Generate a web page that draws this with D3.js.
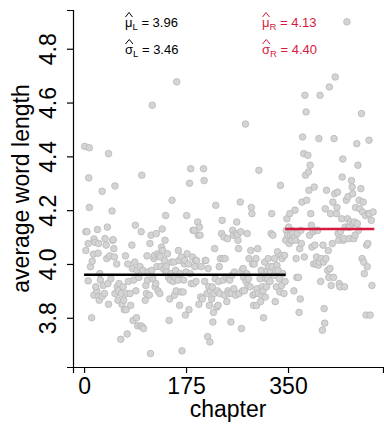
<!DOCTYPE html>
<html>
<head>
<meta charset="utf-8">
<script src="https://cdn.jsdelivr.net/npm/d3@7"></script>
<style>
  body { margin: 0; background: #fff; }
  svg { display: block; font-family: "Liberation Sans", Arial, sans-serif; }
</style>
</head>
<body>
<svg id="chart" width="384" height="426"></svg>
<script>
// chapter index and its average word length
var chapters = [
  1, 9, 8, 9, 3, 5, 3, 7, 7, 11, 13, 14, 16, 17, 19, 17, 22, 23, 24, 25, 25, 26, 20, 27, 28,
  31, 31, 33, 35, 36, 38, 39, 40, 41, 42, 42, 44, 46, 48, 49, 50, 51, 52, 53, 53, 56, 57, 58, 59, 60,
  63, 64, 65, 67, 68, 69, 71, 72, 73, 74, 75, 76, 79, 80, 82, 83, 84, 85, 87, 88, 89, 90, 91, 92, 94,
  96, 97, 98, 99, 100, 101, 102, 105, 106, 107, 108, 109, 110, 112, 113, 114, 115, 116, 117, 118, 120,
  121, 122, 123, 124, 125, 126, 127, 129, 130, 131, 132, 133, 134, 135, 137, 138, 139, 140, 141, 142,
  143, 145, 146, 147, 148, 149, 150, 151, 153, 154, 155, 156, 157, 158, 159, 161, 162, 163, 164, 165,
  166, 167, 168, 170, 171, 172, 173, 174, 175, 176, 177, 179, 180, 181, 182, 183, 184, 186, 187, 188,
  189, 190, 191, 192, 193, 195, 196, 197, 198, 199, 200, 201, 203, 205, 206, 207, 208, 209, 211, 212,
  213, 214, 215, 216, 217, 219, 220, 221, 222, 223, 224, 225, 226, 228, 229, 230, 231, 232, 233, 234,
  236, 237, 238, 239, 240, 241, 242, 244, 245, 246, 247, 248, 249, 250, 252, 253, 254, 255, 256, 257,
  258, 260, 261, 262, 263, 264, 265, 266, 268, 269, 270, 271, 272, 273, 274, 275, 277, 278, 279, 280,
  281, 282, 283, 285, 286, 287, 288, 289, 290, 291, 292, 294, 295, 296, 297, 298, 299, 300, 302, 303,
  304, 305, 306, 307, 308, 310, 311, 312, 313, 314, 315, 316, 317, 319, 320, 321, 322, 323, 324, 326,
  327, 328, 329, 330, 331, 332, 333, 335, 336, 337, 338, 339, 340, 341, 343, 344, 345,
  346, 347, 348, 349, 351, 352, 353, 354, 355, 356, 357, 358, 360, 361, 362, 363, 364, 365, 366, 368,
  369, 370, 371, 372, 373, 374, 375, 377, 378, 379, 380, 381, 382, 384, 385, 386, 387, 388, 389, 390,
  391, 393, 394, 395, 396, 397, 398, 399, 401, 402, 403, 404, 405, 406, 407, 409, 410, 411, 412, 413,
  414, 415, 416, 418, 419, 420, 421, 422, 423, 424, 426, 427, 428, 429, 430, 431, 433, 434, 435, 436,
  437, 438, 439, 440, 442, 443, 444, 445, 446, 447, 448, 450, 451, 452, 453, 454, 455, 456, 457, 459,
  460, 461, 462, 463, 464, 465, 466, 468, 469, 470, 471, 472, 473, 475, 476, 477, 478, 479, 480, 481,
  483, 484, 485, 486, 487, 488, 489, 490, 491, 493, 494, 496
];
var avgLength = [
  4.437, 4.432, 4.32, 4.21, 4.12, 4.12, 4.05, 4.076, 3.937, 3.99, 3.80, 4.01, 4.036, 4.093, 4.08, 3.884, 3.90, 4.128, 4.04, 4.076, 3.88, 3.865, 3.915, 3.964, 3.94,
  4.27, 3.88, 3.92, 3.89, 4.094, 4.07, 4.02, 4.137, 3.927, 4.41, 3.85, 4.03, 3.945, 4.197, 4.088, 4.09, 4.057, 4.026, 4.29, 3.89, 4.00, 3.915, 3.865, 3.90, 3.927,
  3.72, 3.89, 3.85, 3.915, 3.865, 3.83, 4.03, 3.83, 3.89, 3.74, 4.00, 3.935, 3.89, 3.846, 4.07, 3.983, 3.79, 3.94, 4.007, 4.144, 3.90, 3.80, 3.976, 3.77, 3.95,
  3.99, 3.77, 4.12, 4.33, 3.766, 3.976, 3.76, 3.865, 3.92, 3.89, 4.03, 3.94, 3.97, 3.884, 4.076, 3.667, 4.107, 3.976, 4.59, 3.945, 4.02,
  4.032, 3.915, 3.927, 4.113, 3.99, 4.038, 3.90, 4.032, 3.89, 4.026, 3.99, 4.063, 4.13, 4.05, 3.98, 4.013, 4.088, 4.18, 3.99, 3.97,
  4.038, 3.95, 3.79, 3.87, 3.94, 3.964, 4.007, 4.237, 3.935, 4.007, 3.884, 3.95, 3.976, 3.90, 4.677, 3.94, 4.05, 4.013, 3.846, 3.964,
  3.896, 4.026, 3.677, 3.896, 3.94, 4.00, 4.013, 3.81, 3.97, 4.18, 4.038, 4.00, 3.83, 4.30, 3.964, 4.354, 3.927, 4.026, 4.125, 3.927,
  4.125, 3.99, 4.013, 3.935, 4.013, 4.156, 4.107, 3.85, 4.137, 4.107, 3.877, 3.99, 3.87, 4.354, 4.31, 3.935, 4.013, 4.013, 3.89, 3.73,
  3.983, 3.915, 3.846, 3.71, 3.90, 3.87, 3.915, 3.784, 3.82, 3.89, 4.057, 3.945, 4.218, 3.84, 3.90, 3.846, 3.935, 3.99, 3.89, 4.02,
  4.113, 4.162, 4.02, 3.94, 4.10, 3.884, 4.02, 3.95, 3.86, 4.094, 3.90, 3.945, 3.89, 3.94, 3.784, 3.89, 3.958, 4.125, 4.107, 3.908,
  3.97, 3.884, 4.113, 4.156, 4.107, 4.088, 4.057, 3.89, 4.23, 4.12, 3.76, 3.976, 3.90, 3.983, 3.95, 3.90, 4.52, 3.935, 3.964, 4.113,
  3.92, 3.945, 4.02, 3.915, 4.05, 4.21, 4.187, 4.00, 3.884, 3.846, 4.00, 3.89, 4.02, 3.846, 3.908, 4.057, 3.89, 4.348, 3.945, 3.86,
  3.976, 3.884, 3.915, 3.90, 3.80, 4.007, 3.877, 3.945, 3.915, 3.976, 3.945, 4.02, 3.99, 3.935, 3.97, 4.113, 4.187, 3.99, 4.107, 3.958,
  4.02, 3.86, 3.976, 3.915, 3.995, 4.045, 3.976, 3.945, 3.896, 4.292, 4.032, 3.92, 4.02, 3.964, 3.89, 4.032, 3.935,
  4.088, 4.125, 4.168, 4.107, 4.137, 4.076, 4.187, 4.107, 4.088, 4.125, 4.088, 4.113, 3.90, 4.10, 4.20, 4.088, 4.02, 3.95, 4.113, 3.95,
  3.82, 4.057, 3.87, 4.125, 4.076, 4.23, 4.472, 4.41, 4.026, 4.627, 4.33, 4.565, 4.237, 4.404, 4.342, 4.274, 4.107, 4.367, 4.187, 4.144,
  4.063, 4.12, 4.00, 4.286, 4.07, 4.125, 4.00, 4.026, 4.125, 3.995, 4.466, 4.007, 4.627, 3.935, 4.02, 3.754, 4.07, 4.007, 3.834, 3.78,
  4.205, 4.02, 4.274, 3.976, 4.05, 3.95, 4.658, 3.983, 4.187, 3.92, 4.076, 4.23, 3.95, 4.466, 4.261, 4.695, 4.187, 4.21, 4.267, 4.113,
  4.088, 3.927, 3.915, 4.12, 4.168, 4.323, 4.39, 4.088, 4.094, 3.915, 4.137, 4.237, 4.90, 4.168, 4.25, 4.137, 4.094, 4.137, 4.156, 4.31,
  4.286, 4.261, 4.15, 4.094, 4.156, 4.107, 4.21, 4.447, 4.15, 4.367, 4.125, 4.237, 4.205, 4.28, 4.559, 4.02, 4.193, 4.23, 4.007, 3.964,
  4.18, 3.81, 4.07, 3.99, 4.076, 4.187, 4.46, 4.187, 3.81, 4.162, 3.92, 4.193
];

// segment means (left of change point, right of change point)
var segments = [
  {side: 'L', from: 0, to: 346, mean: 3.96, color: '#000000'},
  {side: 'R', from: 345, to: 498, mean: 4.13, color: '#d7193f'}
];
var sigmaHat = {L: '3.46', R: '4.40'};
var muHat = {L: '3.96', R: '4.13'};

var xTicks = [0, 175, 350];
var yTicks = [3.8, 4.0, 4.2, 4.4, 4.6, 4.8];

var svg = d3.select('#chart');
var plotLeft = 73, plotRight = 383, plotTop = 10, plotBottom = 367;

var xScale = d3.scaleLinear().domain([-19, 513]).range([plotLeft, plotRight]);
var yScale = d3.scaleLinear().domain([3.617, 4.944]).range([plotBottom, plotTop]);

// points
var points = chapters.map(function(c, i) { return {chapter: c, value: avgLength[i]}; });
svg.append('g')
  .selectAll('circle')
  .data(points)
  .enter()
  .append('circle')
  .attr('cx', function(d) { return xScale(d.chapter); })
  .attr('cy', function(d) { return yScale(d.value); })
  .attr('r', 3.3)
  .attr('fill', '#d4d4d4')
  .attr('stroke', '#b8b8b8')
  .attr('stroke-width', 0.8);

// mean lines
svg.append('g')
  .selectAll('line')
  .data(segments)
  .enter()
  .append('line')
  .attr('x1', function(d) { return xScale(d.from); })
  .attr('x2', function(d) { return xScale(d.to); })
  .attr('y1', function(d) { return yScale(d.mean); })
  .attr('y2', function(d) { return yScale(d.mean); })
  .attr('stroke', function(d) { return d.color; })
  .attr('stroke-width', 2.6);

// axes
var xAxis = svg.append('g')
  .attr('transform', 'translate(0,' + plotBottom + ')')
  .call(d3.axisBottom(xScale).tickValues(xTicks).tickSizeOuter(0).tickSize(6));
xAxis.selectAll('text')
  .attr('y', 27)
  .attr('dy', 0)
  .attr('fill', '#000')
  .style('font-size', '23px');

var yAxis = svg.append('g')
  .attr('transform', 'translate(' + plotLeft + ',0)')
  .call(d3.axisLeft(yScale).tickValues(yTicks).tickFormat(d3.format('.1f')).tickSizeOuter(0).tickSize(6));
yAxis.selectAll('text')
  .attr('transform', 'rotate(-90)')
  .attr('x', 0)
  .attr('y', -17)
  .attr('dy', 0)
  .attr('text-anchor', 'middle')
  .attr('fill', '#000')
  .style('font-size', '23px');

svg.selectAll('.domain, .tick line').attr('stroke', '#000').attr('stroke-width', 1.2);

// axis titles
svg.append('text')
  .attr('x', (plotLeft + plotRight) / 2)
  .attr('y', 417)
  .attr('text-anchor', 'middle')
  .style('font-size', '23px')
  .text('chapter');

svg.append('text')
  .attr('transform', 'translate(29,' + ((plotTop + plotBottom) / 2) + ') rotate(-90)')
  .attr('text-anchor', 'middle')
  .style('font-size', '23px')
  .text('average word length');

// estimate labels with hats
function hatLabel(x, y, sym, sub, val, color) {
  var g = svg.append('g').attr('fill', color);
  var t = g.append('text')
    .attr('x', x)
    .attr('y', y)
    .style('font-size', '13px');
  t.append('tspan').text(sym);
  t.append('tspan').attr('dy', 3).style('font-size', '9.5px').text(sub);
  t.append('tspan').attr('dy', -3).text(' = ' + val);
  var w = sym == 'μ' ? 7 : 7.5;
  g.append('path')
    .attr('d', 'M' + (x + 0.5) + ',' + (y - 10) + 'L' + (x + w / 2 + 0.5) + ',' + (y - 14.5) + 'L' + (x + w + 0.5) + ',' + (y - 10))
    .attr('fill', 'none')
    .attr('stroke', color)
    .attr('stroke-width', 1);
}
hatLabel(125, 27, 'μ', 'L', muHat.L, '#000');
hatLabel(125, 54, 'σ', 'L', sigmaHat.L, '#000');
hatLabel(262, 27, 'μ', 'R', muHat.R, segments[1].color);
hatLabel(262, 54, 'σ', 'R', sigmaHat.R, segments[1].color);
</script>
</body>
</html>
